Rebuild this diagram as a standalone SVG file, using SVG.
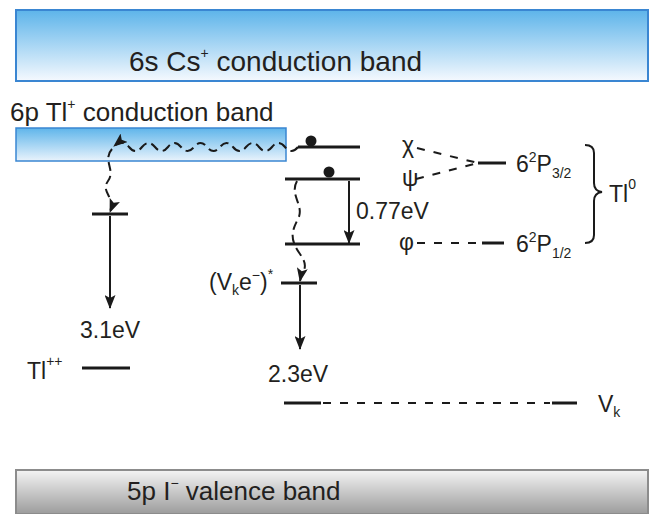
<svg xmlns="http://www.w3.org/2000/svg" width="653" height="514" viewBox="0 0 653 514">
<defs>
<linearGradient id="gBlue" x1="0" y1="0" x2="0" y2="1">
<stop offset="0" stop-color="#5db4ea"/>
<stop offset="1" stop-color="#f5f9fe"/>
</linearGradient>
<linearGradient id="gBlue2" x1="0" y1="0" x2="0" y2="1">
<stop offset="0" stop-color="#5fb5ea"/>
<stop offset="1" stop-color="#e9f3fc"/>
</linearGradient>
<linearGradient id="gGray" x1="0" y1="0" x2="0" y2="1">
<stop offset="0" stop-color="#f4f4f4"/>
<stop offset="1" stop-color="#9c9c9c"/>
</linearGradient>
<marker id="ah" markerUnits="userSpaceOnUse" markerWidth="14" markerHeight="11" refX="13" refY="5.5" orient="auto">
<path d="M0,0 L14,5.5 L0,11 L3,5.5 Z" fill="#1a1a1a"/>
</marker>
</defs>
<style>
text{font-family:"Liberation Sans",Arial,sans-serif;fill:#231f20;font-size:23px}
.big{font-size:26px}
.lvl{stroke:#1a1a1a;stroke-width:3;fill:none}
.arr{stroke:#1a1a1a;stroke-width:2;fill:none;marker-end:url(#ah)}
.wav{stroke:#1a1a1a;stroke-width:2;fill:none;stroke-dasharray:9 5;marker-end:url(#ah)}
.dsh{stroke:#1a1a1a;stroke-width:2;fill:none;stroke-dasharray:8 9}
.sm{font-size:14px}
</style>

<g id="cs-band">
<rect x="16" y="10" width="632" height="71" fill="url(#gBlue)" stroke="#3a86d2" stroke-width="2"/>
<text class="big" x="129" y="71" font-size="28" style="font-size:28px">6s Cs<tspan class="sm" dy="-13">+</tspan><tspan dy="13"> conduction band</tspan></text>
</g>

<g id="tl-band">
<text class="big" x="10" y="121">6p Tl<tspan class="sm" dy="-12">+</tspan><tspan dy="12"> conduction band</tspan></text>
<rect x="16" y="128" width="270" height="33" fill="url(#gBlue2)" stroke="#3a86d2" stroke-width="1.5"/>
</g>

<g id="valence-band">
<rect x="16" y="470" width="632" height="44" fill="url(#gGray)" stroke="#8c8c8c" stroke-width="2"/>
<text class="big" x="127" y="500">5p I<tspan class="sm" dy="-12">−</tspan><tspan dy="12"> valence band</tspan></text>
</g>

<g id="tl-plus-plus">
<line class="lvl" x1="92" y1="214" x2="128" y2="214"/>
<text x="80" y="338" font-size="24">3.1eV</text>
<text x="27" y="379" font-size="24">Tl<tspan class="sm" dy="-13">++</tspan></text>
<line class="lvl" x1="82" y1="368" x2="130" y2="368"/>
</g>

<g id="tl0-levels">
<line class="lvl" x1="298" y1="147" x2="360" y2="147"/>
<circle cx="311" cy="141" r="5.5" fill="#1a1a1a"/>
<line class="lvl" x1="285" y1="179" x2="360" y2="179"/>
<circle cx="329" cy="172" r="5.5" fill="#1a1a1a"/>
<line class="lvl" x1="285" y1="244" x2="360" y2="244"/>
<text x="356" y="219">0.77eV</text>
</g>

<g id="vke">
<text x="209" y="290">(V<tspan class="sm" dy="5">k</tspan><tspan dy="-5">e</tspan><tspan class="sm" dy="-10">−</tspan><tspan dy="10">)</tspan><tspan class="sm" dy="-11">*</tspan></text>
<line class="lvl" x1="281" y1="283" x2="317" y2="283"/>
<text x="268" y="382" font-size="24">2.3eV</text>
</g>

<g id="vk">
<line class="lvl" x1="284" y1="403" x2="321" y2="403"/>
<line class="lvl" x1="552" y1="403" x2="577" y2="403"/>
<text x="598" y="412">V<tspan class="sm" dy="5">k</tspan></text>
</g>

<g id="states">
<text x="402" y="153" font-size="22">χ</text>
<text x="402" y="186" font-size="22">ψ</text>
<text x="399" y="250" font-size="22">φ</text>
<line class="lvl" x1="478" y1="163" x2="506" y2="163"/>
<line class="lvl" x1="482" y1="243" x2="504" y2="243"/>
<text x="516" y="172">6<tspan class="sm" dy="-10">2</tspan><tspan dy="10">P</tspan><tspan class="sm" dy="6">3/2</tspan></text>
<text x="516" y="252">6<tspan class="sm" dy="-10">2</tspan><tspan dy="10">P</tspan><tspan class="sm" dy="6">1/2</tspan></text>
<path d="M585,145 Q594,145 594,153 L594,183 Q594,191 602,192 Q594,193 594,201 L594,235 Q594,243 585,243" fill="none" stroke="#1a1a1a" stroke-width="2"/>
<text x="609" y="202" font-size="24">Tl<tspan class="sm" dy="-13">0</tspan></text>
</g>

<g id="connectors">
<path class="wav" d="M298,147 Q291.5,155 285,147 T272,147 T259,147 T246,147 T233,147 T220,147 T207,147 T194,147 T181,147 T168,147 T155,147 T142,147 T129,147 T114,146"/>
<path class="wav" d="M112,149 C102,160 116,170 108,181 S 116,197 110,212"/>
<path class="wav" d="M297,181 C289,195 305,206 298,219 S 290,240 300,254 S 302,270 300,281"/>
<line class="arr" x1="110" y1="216" x2="110" y2="308"/>
<line class="arr" x1="349" y1="181" x2="349" y2="243"/>
<line class="arr" x1="300" y1="285" x2="300" y2="349"/>
<line class="dsh" x1="417" y1="148" x2="478" y2="163"/>
<line class="dsh" x1="416" y1="179" x2="478" y2="163"/>
<line class="dsh" x1="417" y1="243" x2="478" y2="243"/>
<line class="dsh" x1="323" y1="403" x2="550" y2="403"/>
</g>
</svg>
